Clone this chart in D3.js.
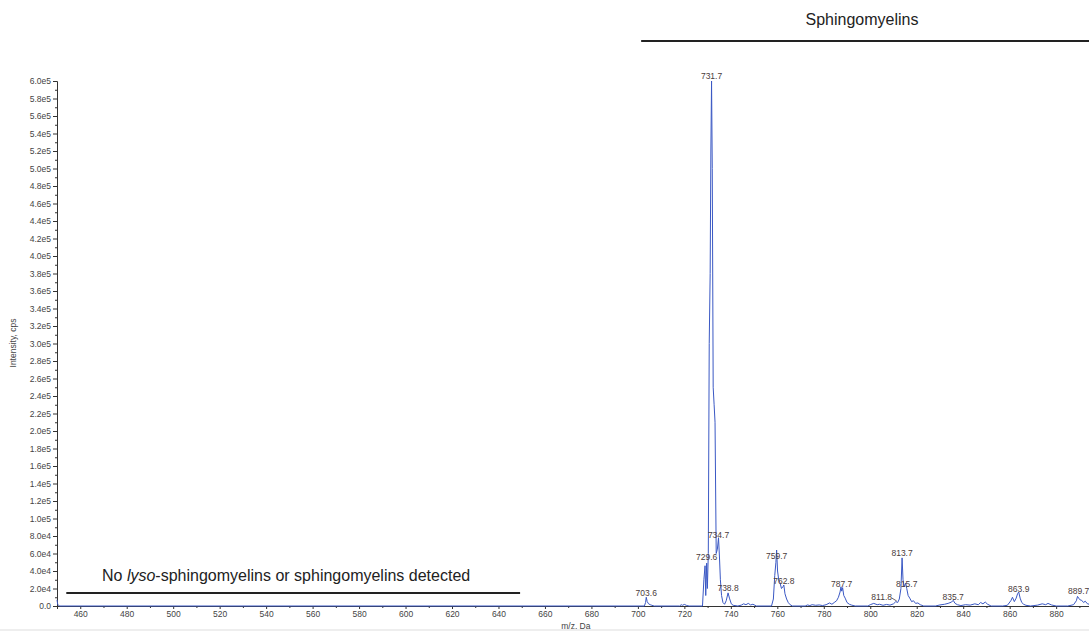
<!DOCTYPE html>
<html>
<head>
<meta charset="utf-8">
<script src="https://cdn.jsdelivr.net/npm/d3@7"></script>
<style>
  body { margin: 0; background: #fff; }
  svg { display: block; font-family: "Liberation Sans", Arial, sans-serif; }
</style>
</head>
<body>
<svg id="chart" width="1089" height="631"></svg>
<script>
// profile spectrum, [m/z, intensity], one array per region
var region450 = [[450, 7000], [450.3, 2000], [451, 0]];
var region703 = [[702.8, 0], [703.3, 4000], [703.6, 10000], [704.0, 5000], [704.6, 2500],
  [705.3, 1500], [706.0, 800], [707, 0]];
var region720 = [[718, 0], [718.6, 1500], [719.2, 800], [720, 1800], [721, 600], [722, 0]];
var region731 = [[727.8, 0], [728.4, 30000], [728.9, 46000], [729.2, 12000], [729.6, 49000],
  [729.9, 20000], [730.3, 60000], [730.7, 300000], [731.1, 380000], [731.4, 520000],
  [731.7, 600000], [732.0, 500000], [732.4, 250000], [732.8, 230000], [733.2, 210000],
  [733.7, 60000], [734.2, 65000], [734.7, 78000], [735.1, 56000], [735.5, 30000],
  [736.0, 12000], [736.6, 4000], [737.3, 2000], [738.0, 6000], [738.8, 15000],
  [739.4, 9000], [740.2, 2500], [741, 800], [743, 0], [744.5, 1000], [745.5, 2500],
  [746.5, 1500], [747.5, 3000], [748.5, 1200], [749.5, 2000], [751, 0]];
var region760 = [[757.5, 0], [758.3, 8000], [758.9, 35000], [759.4, 50000], [759.7, 64000],
  [760.1, 40000], [760.6, 30000], [761.2, 26000], [761.8, 20000], [762.4, 22000],
  [762.8, 24000], [763.3, 14000], [764, 8000], [764.7, 4000], [765.5, 1500], [766.5, 0]];
var region788 = [[772, 0], [773, 1200], [774, 500], [775, 1500], [776.5, 800], [778, 1200],
  [779.5, 500], [781, 1500], [782.5, 3500], [783.5, 2000], [784.5, 4000], [785.5, 6000],
  [786.3, 10000], [787.0, 16000], [787.4, 22000], [787.7, 17000], [788.1, 21000],
  [788.6, 12000], [789.2, 9000], [790, 4000], [791, 2000], [792, 1000], [793.5, 0]];
var region814 = [[799, 0], [800, 1500], [801.5, 3000], [803, 1500], [804, 2000], [805.5, 800],
  [807, 1800], [808.5, 1000], [810, 2500], [811, 5000], [811.8, 4000], [812.5, 8000],
  [813.2, 20000], [813.7, 55000], [814.1, 30000], [814.6, 22000], [815.2, 26000],
  [815.7, 20000], [816.3, 12000], [817, 9000], [817.8, 5000], [818.6, 6000], [819.5, 3000],
  [820.5, 3500], [821.5, 1500], [823, 0]];
var region836 = [[828, 0], [830, 1200], [832, 2000], [833.5, 3000], [835, 4500], [835.7, 6500],
  [836.5, 3000], [837.5, 1500], [839, 500], [841, 1500], [843, 1000], [845, 2500],
  [846.5, 1500], [847.5, 4000], [848.5, 2500], [849.5, 4500], [850.5, 2000], [852, 0]];
var region864 = [[857, 0], [859, 800], [860.5, 6000], [861.2, 10000], [862, 5000],
  [862.8, 9000], [863.4, 14000], [863.9, 16000], [864.5, 9000], [865.2, 4000], [866, 2000],
  [867, 800], [869, 0], [872, 1000], [874, 2500], [875.5, 1500], [876.5, 3000], [878, 1200],
  [880, 0]];
var region890 = [[885, 0], [887.5, 1500], [888.7, 6000], [889.2, 11000], [889.7, 9000],
  [890.3, 7000], [891, 6500], [891.8, 4000], [892.5, 5500], [893.5, 2500], [895, 1500]];

// peak labels
var labelMz = ["703.6", "729.6", "731.7", "734.7", "738.8", "759.7", "762.8", "787.7",
  "811.8", "813.7", "815.7", "835.7", "863.9", "889.7"];
var labelIntensity = [9100, 50300, 600000, 75400, 14900, 51400, 22900, 19400,
  4600, 54900, 19400, 4600, 13700, 11400];

var xTicks = d3.range(460, 881, 20);
var yTicks = d3.range(0, 600001, 20000);

// bracket annotations
var annotations = [
  { text: "Sphingomyelins", from: 701.4, to: 900, top: true },
  { text: "No lyso-sphingomyelins or sphingomyelins detected", from: 454, to: 649.3, top: false }
];

var svg = d3.select("#chart");
var ink = "#333";

var x = d3.scaleLinear().domain([450, 895]).range([57, 1091]);
var y = d3.scaleLinear().domain([0, 600000]).range([606, 81]);

// Y axis
var yAxis = svg.append("g")
  .attr("transform", "translate(57, 0)")
  .call(d3.axisLeft(y).tickValues(yTicks).tickSize(4).tickPadding(2)
    .tickFormat(function (d) {
      if (d === 0) return "0.0";
      var e = Math.floor(Math.log10(d));
      return (d / Math.pow(10, e)).toFixed(1) + "e" + e;
    }));
yAxis.append("g").selectAll("line")
  .data(d3.range(10000, 600000, 20000))
  .enter().append("line")
  .attr("x1", -2).attr("x2", 0)
  .attr("y1", function (d) { return y(d) + 0.5; })
  .attr("y2", function (d) { return y(d) + 0.5; })
  .attr("stroke", ink);

// X axis
var xAxis = svg.append("g")
  .attr("transform", "translate(0, 606)")
  .call(d3.axisBottom(x).tickValues(xTicks).tickSize(3).tickPadding(2).tickFormat(d3.format("d")));
xAxis.append("g").selectAll("line")
  .data(d3.range(450, 895, 10).filter(function (d) { return d % 20 !== 0; }))
  .enter().append("line")
  .attr("x1", function (d) { return x(d) + 0.5; })
  .attr("x2", function (d) { return x(d) + 0.5; })
  .attr("y1", 0).attr("y2", 2)
  .attr("stroke", ink);

svg.selectAll(".domain").attr("stroke", ink);
svg.selectAll(".tick line").attr("stroke", ink);
svg.selectAll(".tick text")
  .attr("fill", "#444")
  .style("font-size", "8.5px")
  .style("font-family", "'Liberation Sans', Arial, sans-serif");

// axis titles
svg.append("text")
  .attr("x", x(673.3)).attr("y", 629)
  .attr("text-anchor", "middle")
  .attr("fill", "#444")
  .style("font-size", "8.5px")
  .text("m/z, Da");
svg.append("text")
  .attr("transform", "translate(16, 343) rotate(-90)")
  .attr("text-anchor", "middle")
  .attr("fill", "#444")
  .style("font-size", "8.5px")
  .text("Intensity, cps");

// spectrum trace
var spectrum = [].concat(region450, region703, region720, region731, region760,
  region788, region814, region836, region864, region890);
var filled = [];
spectrum.forEach(function (p, i) {
  if (i > 0 && p[0] - spectrum[i - 1][0] > 3) {
    filled.push([spectrum[i - 1][0] + 0.1, 0]);
    filled.push([p[0] - 0.1, 0]);
  }
  filled.push(p);
});
var line = d3.line()
  .x(function (d) { return x(d[0]); })
  .y(function (d) { return y(d[1]); });
svg.append("path")
  .datum(filled)
  .attr("d", line)
  .attr("fill", "none")
  .attr("stroke", "#3a58c4")
  .attr("stroke-width", 1)
  .attr("stroke-linejoin", "round");

// peak labels
svg.append("g").selectAll("text")
  .data(labelMz)
  .enter().append("text")
  .attr("x", function (d) { return x(+d) + (d === "811.8" ? -16 : 0); })
  .attr("y", function (d, i) { return y(labelIntensity[i]) - 2; })
  .attr("text-anchor", "middle")
  .attr("fill", "#4a3b3b")
  .style("font-size", "8.5px")
  .text(function (d) { return d; });
// leader for 811.8
svg.append("path")
  .attr("d", "M" + (x(811.8) - 6) + "," + (y(4600) - 4) + "L" + (x(811.8) - 1) + "," + (y(4600) - 1))
  .attr("stroke", "#4a3b3b")
  .attr("stroke-width", 0.8);

// bracket annotations
annotations.forEach(function (a) {
  var lineY = a.top ? 41 : 593;
  svg.append("line")
    .attr("x1", x(a.from)).attr("x2", x(a.to))
    .attr("y1", lineY).attr("y2", lineY)
    .attr("stroke", "#222")
    .attr("stroke-width", 2.2);
  var t = svg.append("text")
    .attr("fill", "#222")
    .style("font-size", "16px");
  if (a.top) {
    t.attr("x", 862).attr("y", 25).attr("text-anchor", "middle").text(a.text);
  } else {
    t.attr("x", 102).attr("y", 581);
    t.append("tspan").text("No ");
    t.append("tspan").style("font-style", "italic").text("lyso");
    t.append("tspan").text("-sphingomyelins or sphingomyelins detected");
  }
});

// light strip at the bottom edge
svg.append("rect")
  .attr("x", 0).attr("y", 629)
  .attr("width", 1089).attr("height", 2)
  .attr("fill", "#eeeeee");
</script>
</body>
</html>
